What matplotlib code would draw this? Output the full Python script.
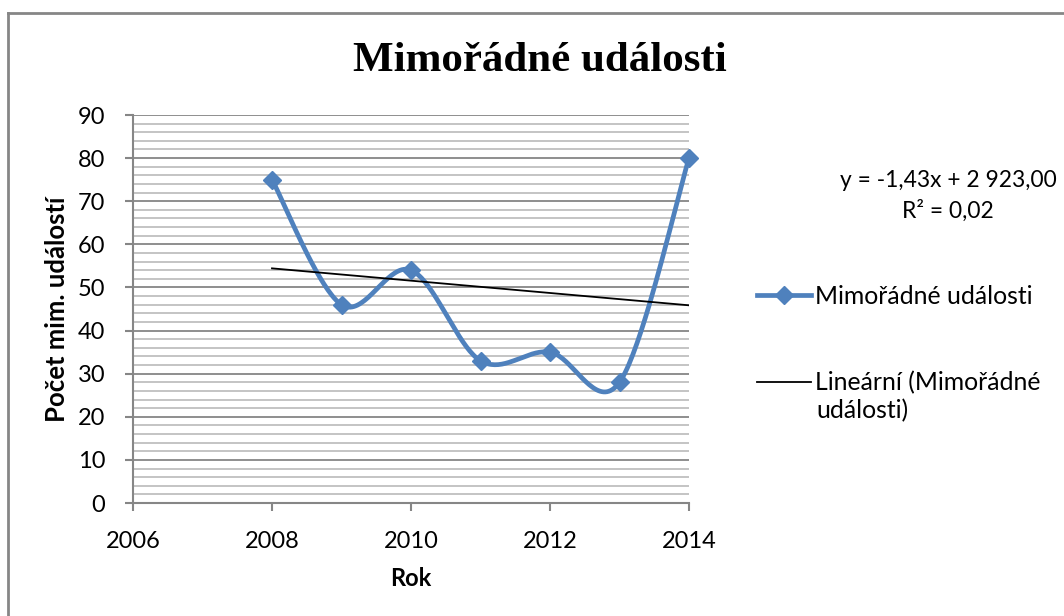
import numpy as np
import matplotlib
matplotlib.use("Agg")
import matplotlib.pyplot as plt
from matplotlib.lines import Line2D
from matplotlib.ticker import MultipleLocator

# ---- data ----
years = [2008, 2009, 2010, 2011, 2012, 2013, 2014]
counts = [75, 46, 54, 33, 35, 28, 80]
series_name = "Mimořádné události"
trend_name_1 = "Lineární (Mimořádné"
trend_name_2 = "události)"
title = "Mimořádné události"
xlabel = "Rok"
ylabel = "Počet mim. událostí"
eq_text = "y = -1,43x + 2 923,00\nR² = 0,02"

SANS = ["Lato", "DejaVu Sans"]
SERIF = ["Liberation Serif", "DejaVu Serif"]
BLUE = "#4F81BD"

W, H = 1064, 616
fig = plt.figure(figsize=(W / 100, H / 100), dpi=100)

# chart border (top and left edges visible)
fig.add_artist(Line2D([8 / W, 1063 / W], [1 - 13 / H, 1 - 13 / H], transform=fig.transFigure,
                      color="#868686", linewidth=2.0))
fig.add_artist(Line2D([8 / W, 8 / W], [0, 1 - 13 / H], transform=fig.transFigure,
                      color="#868686", linewidth=2.0))

L, R, T, B = 133, 689, 115, 503
ax = fig.add_axes([L / W, (H - B) / H, (R - L) / W, (B - T) / H])

# Excel-like smoothed line (cubic Bezier, Catmull-Rom 1/6 control points)
x = np.array(years, float)
y = np.array(counts, float)
n = len(x)
sx, sy = [], []
t = np.linspace(0, 1, 40)
for i in range(n - 1):
    p0 = np.array([x[max(i - 1, 0)], y[max(i - 1, 0)]])
    p1 = np.array([x[i], y[i]])
    p2 = np.array([x[i + 1], y[i + 1]])
    p3 = np.array([x[min(i + 2, n - 1)], y[min(i + 2, n - 1)]])
    c1 = p1 + (p2 - p0) / 6
    c2 = p2 - (p3 - p1) / 6
    pts = ((1 - t) ** 3)[:, None] * p1 + (3 * (1 - t) ** 2 * t)[:, None] * c1 \
        + (3 * (1 - t) * t ** 2)[:, None] * c2 + (t ** 3)[:, None] * p2
    sx.extend(pts[:, 0]); sy.extend(pts[:, 1])

ax.plot(sx, sy, color=BLUE, linewidth=3.4, solid_capstyle="round", zorder=3, clip_on=False)
ax.plot(x, y, linestyle="none", marker="D", markersize=9.5, color=BLUE, zorder=4, clip_on=False)
h_series, = ax.plot([], [], color=BLUE, linewidth=3.4, marker="D", markersize=9.5,
                    markevery=[1], label=series_name)

# linear trendline
k, q = np.polyfit(x, y, 1)
h_trend, = ax.plot([x[0], x[-1]], [k * x[0] + q, k * x[-1] + q], color="black",
                   linewidth=1.3, zorder=3, label=trend_name_1)

ax.set_xlim(2006, 2014)
ax.set_ylim(0, 90)
ax.xaxis.set_major_locator(MultipleLocator(2))
ax.yaxis.set_major_locator(MultipleLocator(10))
ax.yaxis.set_minor_locator(MultipleLocator(2))
ax.grid(True, which="major", axis="y", color="#868686", linewidth=1.3, zorder=1)
ax.grid(True, which="minor", axis="y", color="#BFBFBF", linewidth=1.3, zorder=1)
ax.set_axisbelow(True)
for s in ["top", "right"]:
    ax.spines[s].set_visible(False)
for s in ["left", "bottom"]:
    ax.spines[s].set_color("#868686")
    ax.spines[s].set_linewidth(1.5)
ax.tick_params(axis="both", which="major", direction="out", length=6, width=1.5,
               color="#868686", labelsize=17, pad=14)
ax.tick_params(axis="y", which="minor", length=0)
for lab in ax.get_xticklabels() + ax.get_yticklabels():
    lab.set_family(SANS)

ax.set_xlabel(xlabel, family=SANS, fontsize=17, fontweight="bold", va="center")
ax.xaxis.set_label_coords(0.5, (B - 579) / (B - T))
ax.set_ylabel(ylabel, family=SANS, fontsize=18.5, fontweight="bold", va="center")
ax.yaxis.set_label_coords((57 - L) / (R - L), 0.5)

fig.text(540 / W, 1 - 61 / H, title, family=SERIF, fontsize=31, fontweight="bold",
         ha="center", va="center")
fig.text(948 / W, 1 - 196 / H, eq_text, family=SANS, fontsize=16.4, ha="center",
         va="center", linespacing=1.45)

leg = fig.legend(handles=[h_series, h_trend], loc="upper left",
                 bbox_to_anchor=(757 / W, 1 - 285 / H), frameon=False,
                 prop={"family": SANS, "size": 17.8}, handlelength=2.2,
                 handletextpad=0.15, labelspacing=2.56, borderpad=0, borderaxespad=0)
fig.text(816 / W, 1 - 411 / H, trend_name_2, family=SANS, fontsize=17.8,
         ha="left", va="center")

fig.savefig("out.png", dpi=100)
